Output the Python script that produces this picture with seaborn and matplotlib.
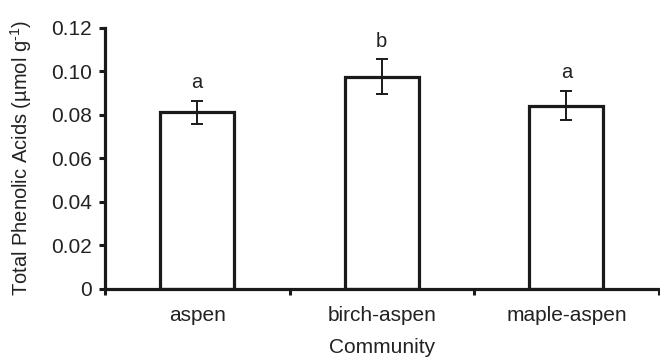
import numpy as np
import pandas as pd
import seaborn as sns
import matplotlib.pyplot as plt
from matplotlib.ticker import FixedLocator

communities = ["aspen", "birch-aspen", "maple-aspen"]
phenolics = [0.0812, 0.0975, 0.0843]
se = [0.0052, 0.0081, 0.0068]
letters = ["a", "b", "a"]

sns.set_theme(style="ticks")
plt.rcParams["font.family"] = ["Liberation Sans", "DejaVu Sans"]
plt.rcParams["mathtext.fontset"] = "custom"
plt.rcParams["mathtext.rm"] = "Liberation Sans"
plt.rcParams["mathtext.default"] = "regular"

df = pd.DataFrame({"Community": communities, "phenolics": phenolics})

fig = plt.figure(figsize=(6.6, 3.58), dpi=100)
ax = fig.add_axes([0.159, 0.193, 0.839, 0.729])

sns.barplot(data=df, x="Community", y="phenolics", color="white",
            edgecolor="#1a1a1a", linewidth=2.3, width=0.4, errorbar=None, ax=ax)
x = np.arange(len(communities))
ax.errorbar(x, phenolics, yerr=se, fmt="none", ecolor="#1a1a1a",
            elinewidth=1.4, capsize=4, capthick=1.4)
for xi, v, e, lab in zip(x, phenolics, se, letters):
    ax.text(xi, v + e + 0.004, lab, ha="center", va="bottom", fontsize=14.5, color="#222222")

ax.set_xlim(-0.5, 2.5)
ax.set_ylim(0, 0.12)
ax.set_yticks([0, 0.02, 0.04, 0.06, 0.08, 0.10, 0.12])
ax.set_yticklabels(["0", "0.02", "0.04", "0.06", "0.08", "0.10", "0.12"])
ax.xaxis.set_minor_locator(FixedLocator([-0.5, 0.5, 1.5, 2.5]))
ax.tick_params(axis="x", which="major", length=0, pad=12, labelsize=15, colors="#222222")
ax.tick_params(axis="x", which="minor", length=4.5, width=2.2, color="#1a1a1a", direction="out")
ax.tick_params(axis="y", length=4.5, width=2.2, color="#1a1a1a", labelsize=15,
               labelcolor="#222222", pad=5)

sns.despine(ax=ax)
for s in ["left", "bottom"]:
    ax.spines[s].set_linewidth(2.3)
    ax.spines[s].set_color("#1a1a1a")

ax.set_xlabel("Community", fontsize=15, color="#222222")
ax.set_ylabel("Total Phenolic Acids (µmol g$^{\\text{-}1}$)", fontsize=14.5, color="#222222")
ax.xaxis.set_label_coords(0.5, -0.19)
ax.yaxis.set_label_coords(-0.128, 0.5)

fig.savefig("out.png", dpi=100)
